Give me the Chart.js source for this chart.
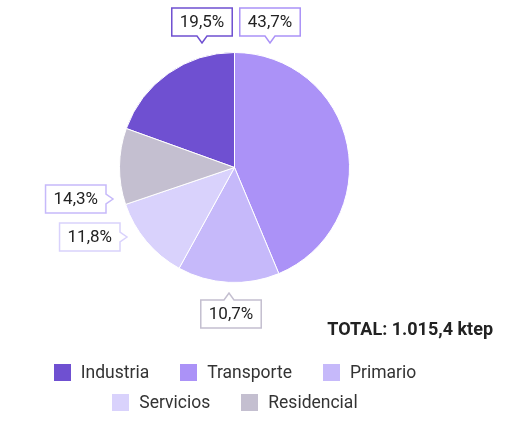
<!DOCTYPE html>
<html>
<head>
<meta charset="utf-8">
<script src="https://cdn.jsdelivr.net/npm/chart.js@4"></script>
<style>
  html, body { margin: 0; padding: 0; background: #fff; }
  #wrap { position: relative; width: 508px; height: 423px; }
  #legend {
    position: absolute; left: 0; top: 357px; width: 470px;
    display: flex; flex-wrap: wrap; justify-content: center;
    column-gap: 31px; row-gap: 0;
    font-family: Roboto, sans-serif; font-size: 17.5px; color: #333;
  }
  .item { display: flex; align-items: center; height: 30px; }
  .box { width: 17px; height: 17px; margin-right: 10px; }
</style>
</head>
<body>
<div id="wrap">
  <canvas id="pieChart"></canvas>
  <div id="legend"></div>
</div>
<script>
// Data
const categories = ['Industria', 'Transporte', 'Primario', 'Servicios', 'Residencial'];
const shares = [19.5, 43.7, 14.3, 11.8, 10.7];
const colors = ['#6f50d1', '#ab92f7', '#c6b9fa', '#d9d2fc', '#c4bfd0'];
const totalLabel = 'TOTAL: 1.015,4 ktep';

// Callout boxes: where each label sits and which way its arrow points
const callouts = [
    { tipX: 202, tipY: 43, dir: 'down' },
    { tipX: 270, tipY: 43, dir: 'down' },
    { tipX: 113, tipY: 199, dir: 'right' },
    { tipX: 127, tipY: 237, dir: 'right' },
    { tipX: 229, tipY: 293, dir: 'up' }
];

const sum = shares.reduce((a, b) => a + b, 0);

function fmt(v) {
    return v.toFixed(1).replace('.', ',') + '%';
}

// Draws the value callouts and the total
const calloutPlugin = {
    id: 'callouts',
    afterDraw(chart) {
        const ctx = chart.ctx;
        ctx.save();
        ctx.font = '17px Roboto';
        ctx.textBaseline = 'middle';
        ctx.textAlign = 'center';
        shares.forEach((v, i) => {
            const c = callouts[i];
            const text = fmt(v);
            const w = ctx.measureText(text).width + 16;
            const h = 28;
            const a = 5, d = 7;
            let x, y;
            if (c.dir === 'down') { x = c.tipX - w / 2; y = c.tipY - d - h; }
            else if (c.dir === 'up') { x = c.tipX - w / 2 + 2; y = c.tipY + d; }
            else { x = c.tipX - d - w; y = c.tipY - h / 2; }

            ctx.beginPath();
            ctx.moveTo(x, y);
            if (c.dir === 'up') {
                ctx.lineTo(c.tipX - a, y); ctx.lineTo(c.tipX, c.tipY); ctx.lineTo(c.tipX + a, y);
            }
            ctx.lineTo(x + w, y);
            if (c.dir === 'right') {
                ctx.lineTo(x + w, c.tipY - a); ctx.lineTo(c.tipX, c.tipY); ctx.lineTo(x + w, c.tipY + a);
            }
            ctx.lineTo(x + w, y + h);
            if (c.dir === 'down') {
                ctx.lineTo(c.tipX + a, y + h); ctx.lineTo(c.tipX, c.tipY); ctx.lineTo(c.tipX - a, y + h);
            }
            ctx.lineTo(x, y + h);
            ctx.closePath();
            ctx.fillStyle = '#fff';
            ctx.fill();
            ctx.lineWidth = 1.5;
            ctx.strokeStyle = colors[i];
            ctx.stroke();

            ctx.fillStyle = '#222';
            ctx.fillText(text, x + w / 2, y + h / 2 + 1);
        });

        ctx.font = 'bold 18px Roboto';
        ctx.textAlign = 'right';
        ctx.fillStyle = '#222';
        ctx.fillText(totalLabel, 493, 330);
        ctx.restore();
    }
};

const ctx = document.getElementById('pieChart').getContext('2d');
new Chart(ctx, {
    type: 'pie',
    data: {
        labels: categories,
        datasets: [{
            data: shares,
            backgroundColor: colors,
            borderColor: '#fff',
            borderWidth: 1
        }]
    },
    options: {
        responsive: true,
        maintainAspectRatio: false,
        animation: false,
        rotation: -shares[0] / sum * 360,
        layout: { padding: { top: 52, bottom: 140, left: 119, right: 158 } },
        plugins: {
            legend: { display: false },
            tooltip: { enabled: false }
        }
    },
    plugins: [calloutPlugin]
});

// Legend
const legend = document.getElementById('legend');
categories.forEach((name, i) => {
    const item = document.createElement('div');
    item.className = 'item';
    item.innerHTML = `<span class="box" style="background:${colors[i]}"></span>${name}`;
    legend.appendChild(item);
});
</script>
</body>
</html>
